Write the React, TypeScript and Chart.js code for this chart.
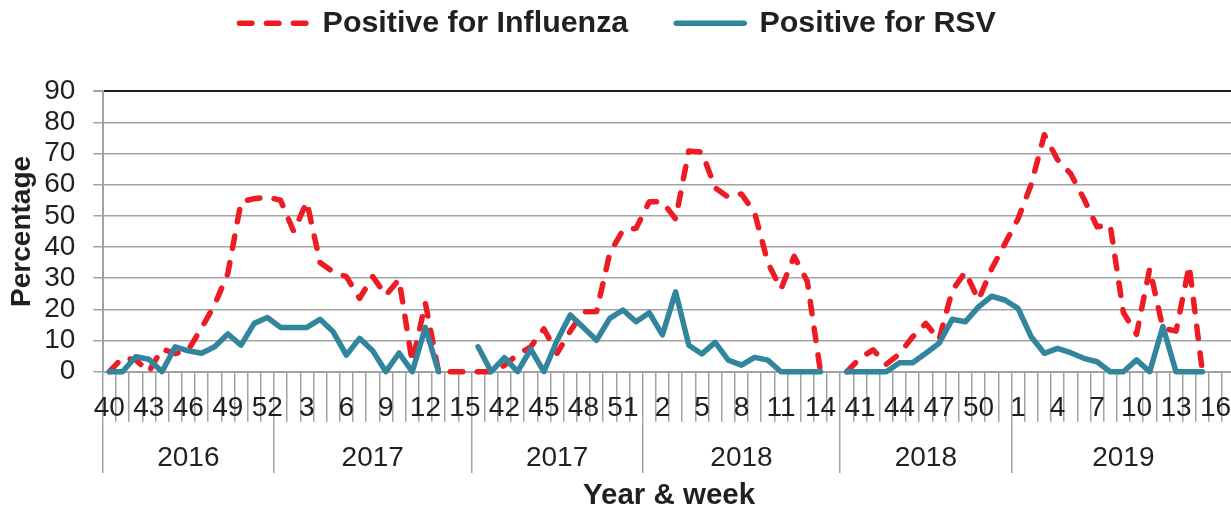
import React, { useEffect, useRef } from 'react';
import { Chart, registerables } from 'chart.js';

Chart.register(...registerables);

// ---- data -------------------------------------------------------------
const weekLabels = [
  '40', '41', '42', '43', '44', '45', '46', '47', '48', '49', '50', '51', '52',
  '1', '2', '3', '4', '5', '6', '7', '8', '9', '10', '11', '12', '13', '14', '15',
  '40', '41', '42', '43', '44', '45', '46', '47', '48', '49', '50', '51', '52',
  '1', '2', '3', '4', '5', '6', '7', '8', '9', '10', '11', '12', '13', '14', '15',
  '40', '41', '42', '43', '44', '45', '46', '47', '48', '49', '50', '51', '52',
  '1', '2', '3', '4', '5', '6', '7', '8', '9', '10', '11', '12', '13', '14', '15', '16', '17',
];

const yearLabels = ['2016', '2017', '2017', '2018', '2018', '2019'];
const yearSpans = [13, 15, 13, 15, 13, 17];

const influenza: (number | null)[] = [
  0, 4.5, 3.8, 0, 7.3, 5.8, 7, 14, 21.5, 31.5, 54.5, 55.5, 56,
  55, 45, 54.5, 35, 32, 30.5, 23.5, 30.5, 24.5, 29.6, 3, 22, 0, 0, 0,
  0, 0, 2, 5.5, 8, 13.7, 5.9, 13, 19.2, 19.3, 38, 45.4, 46,
  54.5, 54.5, 49, 70.8, 70.4, 59, 56, 57, 51, 35, 26.5, 37, 29, 0, null,
  0, 4.3, 7, 2.4, 5.7, 11.2, 15.5, 10.2, 26, 32, 23, 33, 41,
  49, 60, 76, 68, 63.5, 55.5, 46.5, 47, 19, 12, 33, 14, 13, 34, 0, null, null,
];

const rsv: (number | null)[] = [
  0, 0, 4.8, 4, 0, 8, 6.7, 5.9, 8, 12.1, 8.5, 15.5, 17.4,
  14.2, 14.2, 14.2, 16.8, 12.8, 5.3, 10.7, 6.7, 0, 6, 0, 14.2, 0, null, null,
  8, 0, 4.5, 0, 7.2, 0, 10, 18.2, 14.2, 10.1, 17.1, 19.8, 16,
  18.9, 11.8, 25.6, 8.5, 5.7, 9.4, 3.7, 2.1, 4.6, 3.7, 0, 0, 0, 0, null,
  0, 0, 0, 0, 2.9, 2.9, 5.9, 9.1, 16.8, 16, 20.8, 24.2, 23,
  20.3, 11.2, 5.9, 7.5, 6.1, 4.3, 3.2, 0, 0, 3.8, 0, 14.5, 0, 0, 0, null, null,
];

const yTicks = [0, 10, 20, 30, 40, 50, 60, 70, 80, 90];
const weekLabelStep = 3;

// ---- styling ------------------------------------------------------------
const FONT = '"Liberation Sans", Arial, Helvetica, sans-serif';
const TEXT = '#231f20';
const GRID = '#a3a3a3';
const RED = '#ed1c24';
const BLUE = '#31859c';
const LINE_W = 5.5;

// year label placed at the middle category of each span; season boundaries
const yearAt: string[] = [];
const boundaries: number[] = [];
{
  let pos = 0;
  yearSpans.forEach((n, k) => {
    boundaries.push(pos);
    for (let j = 0; j < n; j++) yearAt.push(j === (n - 1) / 2 ? yearLabels[k] : '');
    pos += n;
  });
  boundaries.push(pos);
}

export default function App() {
  const ref = useRef<HTMLCanvasElement | null>(null);

  useEffect(() => {
    if (!ref.current) return;
    const defaultGen = (Chart.defaults as any).plugins.legend.labels.generateLabels;
    const chart = new Chart(ref.current, {
      type: 'line',
      data: {
        labels: weekLabels,
        datasets: [
          {
            label: 'Positive for Influenza',
            data: influenza,
            borderColor: RED,
            backgroundColor: RED,
            borderWidth: LINE_W,
            borderDash: [12.5, 14.5],
            borderCapStyle: 'round',
            borderJoinStyle: 'round',
            pointRadius: 0,
            pointHoverRadius: 0,
            pointStyle: 'line',
            tension: 0,
            spanGaps: false,
            fill: false,
            clip: 8,
            order: 2,
            xAxisID: 'x',
            yAxisID: 'y',
          },
          {
            label: 'Positive for RSV',
            data: rsv,
            borderColor: BLUE,
            backgroundColor: BLUE,
            borderWidth: LINE_W,
            borderCapStyle: 'round',
            borderJoinStyle: 'round',
            pointRadius: 0,
            pointHoverRadius: 0,
            pointStyle: 'line',
            tension: 0,
            spanGaps: false,
            fill: false,
            clip: 8,
            order: 1,
            xAxisID: 'x',
            yAxisID: 'y',
          },
        ],
      },
      options: {
        responsive: false,
        animation: false,
        devicePixelRatio: 1,
        events: [],
        layout: { padding: { left: 0, top: 0, right: 24.7, bottom: 0 } },
        plugins: {
          legend: {
            display: true,
            position: 'top',
            labels: {
              usePointStyle: true,
              pointStyle: 'line',
              pointStyleWidth: 68,
              padding: 48,
              color: TEXT,
              font: { family: FONT, size: 30.4, weight: 'bold' },
              sort: (a: any, b: any) => a.datasetIndex - b.datasetIndex,
              generateLabels: (c: any) => {
                const items = defaultGen(c);
                items.forEach((it: any) => {
                  const ds = c.data.datasets[it.datasetIndex];
                  it.lineDash = ds.borderDash || [];
                  it.lineWidth = LINE_W;
                  it.lineCap = 'round';
                  it.strokeStyle = ds.borderColor;
                  it.pointStyle = 'line';
                });
                return items;
              },
            },
          },
          title: {
            display: true,
            text: '',
            position: 'top',
            weight: 500,
            padding: { top: 0, bottom: 28.3 },
            font: { size: 12, lineHeight: 1.2 },
          },
          tooltip: { enabled: false },
        },
        scales: {
          x: {
            type: 'category',
            position: 'bottom',
            offset: true,
            weight: 0,
            grid: {
              display: true,
              offset: true,
              drawOnChartArea: false,
              drawTicks: true,
              tickLength: 50,
              color: GRID,
              lineWidth: 1.5,
            },
            border: { display: true, color: GRID, width: 2 },
            ticks: {
              autoSkip: false,
              maxRotation: 0,
              minRotation: 0,
              padding: -27.7,
              color: TEXT,
              font: { family: FONT, size: 28, lineHeight: 1 },
              callback: (_v: any, i: number) => (i % weekLabelStep === 0 ? weekLabels[i] : ''),
            },
            title: {
              display: true,
              text: '',
              font: { size: 12, lineHeight: 1.2 },
              padding: { top: 13, bottom: 0 },
            },
          },
          x2: {
            type: 'category',
            position: 'bottom',
            offset: true,
            weight: 1,
            grid: {
              display: true,
              offset: true,
              drawOnChartArea: false,
              drawTicks: true,
              tickLength: 51.3,
              lineWidth: 1.5,
              color: (ctx: any) => (boundaries.includes(ctx.index) ? GRID : 'rgba(0,0,0,0)'),
            },
            border: { display: false },
            ticks: {
              autoSkip: false,
              maxRotation: 0,
              minRotation: 0,
              padding: -29,
              color: TEXT,
              font: { family: FONT, size: 28, lineHeight: 1 },
              callback: (_v: any, i: number) => yearAt[i],
            },
            title: {
              display: true,
              text: 'Year & week',
              color: TEXT,
              font: { family: FONT, size: 29.5, weight: 'bold', lineHeight: 1.2 },
              padding: { top: 35.6, bottom: 0 },
            },
          },
          y: {
            type: 'linear',
            position: 'left',
            min: yTicks[0],
            max: yTicks[yTicks.length - 1],
            afterBuildTicks: (scale: any) => {
              scale.ticks = yTicks.map((v) => ({ value: v }));
            },
            ticks: {
              autoSkip: false,
              padding: 17.8,
              color: TEXT,
              font: { family: FONT, size: 28 },
            },
            grid: {
              color: (ctx: any) => (ctx.index === yTicks.length - 1 ? '#231f20' : GRID),
              tickColor: GRID,
              lineWidth: (ctx: any) => (ctx.index === yTicks.length - 1 ? 2 : 1.5),
              drawTicks: true,
              tickLength: 9.5,
            },
            border: { display: true, color: GRID, width: 2 },
            title: {
              display: true,
              text: 'Percentage',
              color: TEXT,
              font: { family: FONT, size: 28, weight: 'bold', lineHeight: 1.2 },
              padding: { top: 5.7, bottom: -12.8 },
            },
          },
        },
      } as any,
    });
    return () => chart.destroy();
  }, []);

  return (
    <div
      style={{
        position: 'fixed',
        left: 0,
        top: 0,
        width: 1231,
        height: 506,
        overflow: 'hidden',
        background: '#ffffff',
      }}
    >
      <canvas
        ref={ref}
        width={1260}
        height={554}
        style={{ position: 'absolute', left: 0, top: -40, width: 1260, height: 554, display: 'block' }}
      />
    </div>
  );
}
